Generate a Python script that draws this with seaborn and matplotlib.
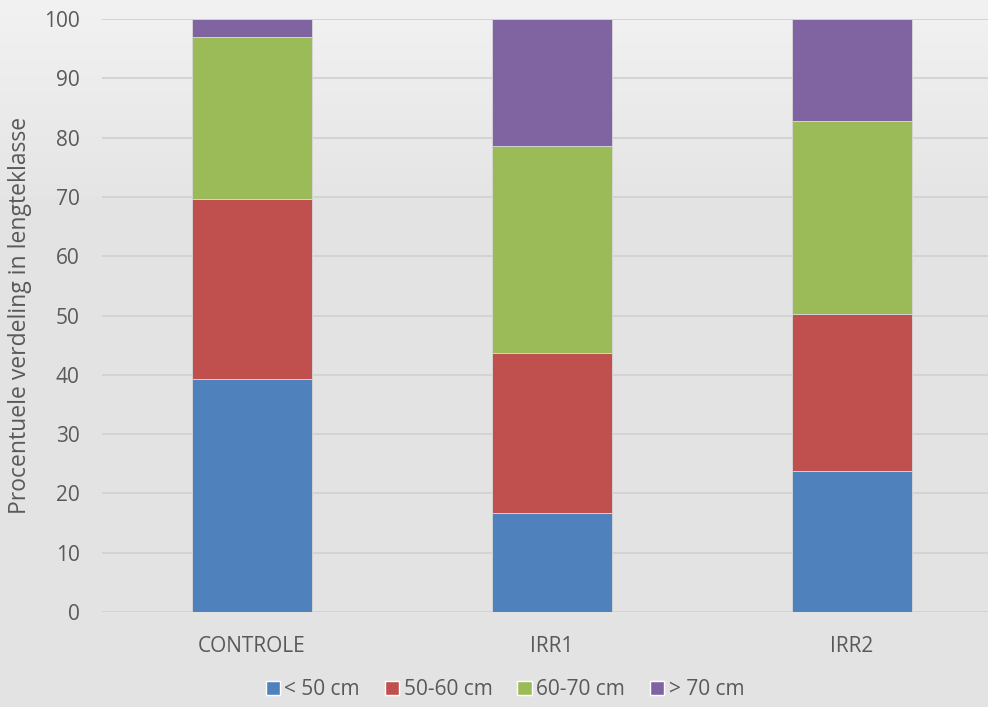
import numpy as np
import pandas as pd
import seaborn as sns
import matplotlib.pyplot as plt
from matplotlib.patches import Patch

# data (percentages per length class)
groepen = ["CONTROLE", "IRR1", "IRR2"]
klassen = ["< 50 cm", "50-60 cm", "60-70 cm", "> 70 cm"]
onder_50 = [39.3, 16.7, 23.8]
van_50_60 = [30.3, 27.0, 26.5]
van_60_70 = [27.4, 34.9, 32.5]
boven_70 = [3.0, 21.4, 17.2]
kleuren = ["#4F81BD", "#C0504D", "#9BBB59", "#8064A2"]

sns.set_theme(style="white")
plt.rcParams["font.family"] = ["Open Sans", "DejaVu Sans"]
tekst = "#595959"

fig = plt.figure(figsize=(9.88, 7.07), dpi=100)
fig.patch.set_facecolor("#E4E4E4")

# lichte verloop bovenaan de achtergrond
bg = fig.add_axes([0, 0, 1, 1], zorder=-5)
h = 707
rij = np.full(h, 0.894)
rij[:200] = np.linspace(0.945, 0.894, 200)
bg.imshow(np.repeat(rij[:, None], 10, axis=1), cmap="gray", vmin=0, vmax=1,
          aspect="auto", extent=[0, 1, 0, 1], origin="upper")
bg.axis("off")

ax = fig.add_axes([102 / 988, 95 / 707, 1 - 102 / 988, 593 / 707])
ax.set_facecolor("none")

reeksen = [onder_50, van_50_60, van_60_70, boven_70]
bottom = np.zeros(len(groepen))
for naam, waarden, kleur in zip(klassen, reeksen, kleuren):
    df = pd.DataFrame({"groep": groepen, "waarde": waarden})
    sns.barplot(data=df, x="groep", y="waarde", color=kleur, width=0.4,
                bottom=bottom, ax=ax, edgecolor="#D8D8D8", linewidth=0.6,
                saturation=1, errorbar=None, zorder=3)
    bottom = bottom + np.array(waarden)

ax.set_ylim(0, 100)
ax.set_xlim(-0.5, 2.453)
ax.set_yticks(range(0, 101, 10))
ax.yaxis.grid(True, color="#D2D2D2", linewidth=1.3, zorder=0)
ax.set_axisbelow(True)
for s in ax.spines.values():
    s.set_visible(False)
ax.tick_params(axis="both", length=0, labelsize=15, colors=tekst)
ax.tick_params(axis="x", pad=17)
ax.tick_params(axis="y", pad=16)
ax.set_xlabel("")
ax.set_ylabel("")
fig.text(20 / 988, 1 - 315 / 707, "Procentuele verdeling in lengteklasse",
         rotation=90, ha="center", va="center", fontsize=16.5, color=tekst)

handles = [Patch(facecolor=k, label=n) for n, k in zip(klassen, kleuren)]
fig.legend(handles=handles, loc="lower center", bbox_to_anchor=(0.511, -0.017), ncol=4,
           frameon=False, fontsize=15, handlelength=0.7, handleheight=0.7,
           handletextpad=0.2, columnspacing=1.2, labelcolor=tekst)

fig.savefig("out.png", dpi=100, facecolor=fig.get_facecolor())
